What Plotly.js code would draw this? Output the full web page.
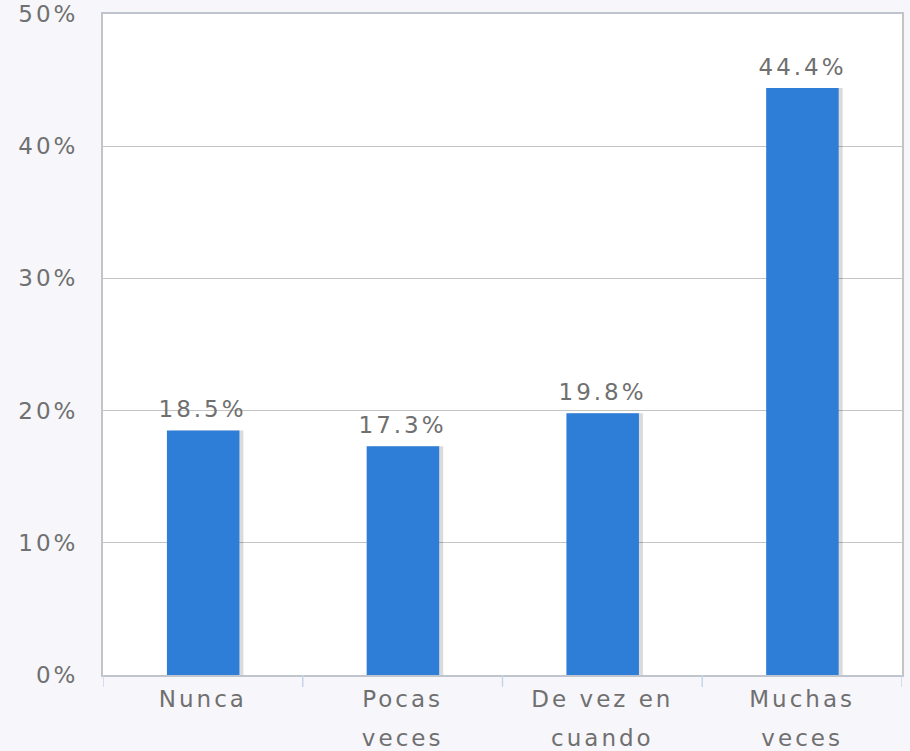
<!DOCTYPE html>
<html><head><meta charset="utf-8">
<script src="https://cdn.plot.ly/plotly-3.0.1.min.js"></script>
<style>html,body{margin:0;padding:0;background:#f7f7fb;}#chart{width:910px;height:751px;}
#chart svg text{letter-spacing:3px;}</style>
</head><body><div id="chart"></div>
<script>
const categories = ["Nunca", "Pocas<br>veces", "De vez en<br>cuando", "Muchas<br>veces"];
const values = [18.5, 17.3, 19.8, 44.4];
const labels = ["18.5%", "17.3%", "19.8%", "44.4%"];
const yTicks = [0, 10, 20, 30, 40, 50];
const yTickText = ["0%", "10%", "20%", "30%", "40%", "50%"];

const fam = "DejaVu Sans, Verdana, sans-serif";
const txtColor = "#707070";
const fsize = 23;
const xIdx = categories.map((c, i) => i);

const shadow = {
  type: "bar", x: xIdx, y: values, width: 0.363, offset: -0.16,
  marker: {color: "rgba(0,0,0,0.14)", line: {width: 0}},
  hoverinfo: "skip", showlegend: false
};
const bars = {
  type: "bar", x: xIdx, y: values, width: 0.363, offset: -0.18,
  marker: {color: "#2e7dd7", line: {width: 0}},
  showlegend: false
};

Plotly.newPlot("chart", [shadow, bars], {
  width: 910, height: 751,
  paper_bgcolor: "#f7f7fb", plot_bgcolor: "#ffffff",
  margin: {l: 103, r: 8, t: 14, b: 76},
  barmode: "overlay",
  font: {family: fam, size: fsize, color: txtColor},
  xaxis: {
    range: [-0.5, 3.5], tickvals: xIdx, ticktext: categories,
    showgrid: false, zeroline: false,
    showline: true, linecolor: "#c0c4cc", linewidth: 2, mirror: true,
    ticks: "", ticklabelstandoff: 2,
    tickfont: {family: fam, size: fsize, color: txtColor}
  },
  yaxis: {
    range: [0, 50], tickvals: yTicks, ticktext: yTickText,
    showgrid: true, gridcolor: "#c4c4c4", gridwidth: 1,
    zeroline: false, showline: true, linecolor: "#c4c4c4", linewidth: 2, mirror: true,
    ticks: "", ticklabelstandoff: 18,
    tickfont: {family: fam, size: fsize, color: txtColor}
  },
  annotations: xIdx.map(i => ({
    x: i, y: values[i], xref: "x", yref: "y", text: labels[i],
    showarrow: false, yanchor: "bottom", yshift: 6,
    font: {family: fam, size: fsize, color: txtColor}
  })),
  shapes: xIdx.concat([4]).map(i => ({
    type: "line", xref: "x", yref: "paper", x0: i - 0.5, x1: i - 0.5, y0: 0, y1: -0.018,
    line: {color: "#c6d6ea", width: 1.5}
  }))
}, {displayModeBar: false, staticPlot: true}).then(gd => {
  // widen line spacing of the two-line category labels
  gd.querySelectorAll(".xtick text tspan.line").forEach(t => {
    if (t.getAttribute("dy") && t.getAttribute("dy") !== "0em") t.setAttribute("dy", "1.72em");
  });
});
</script></body></html>
